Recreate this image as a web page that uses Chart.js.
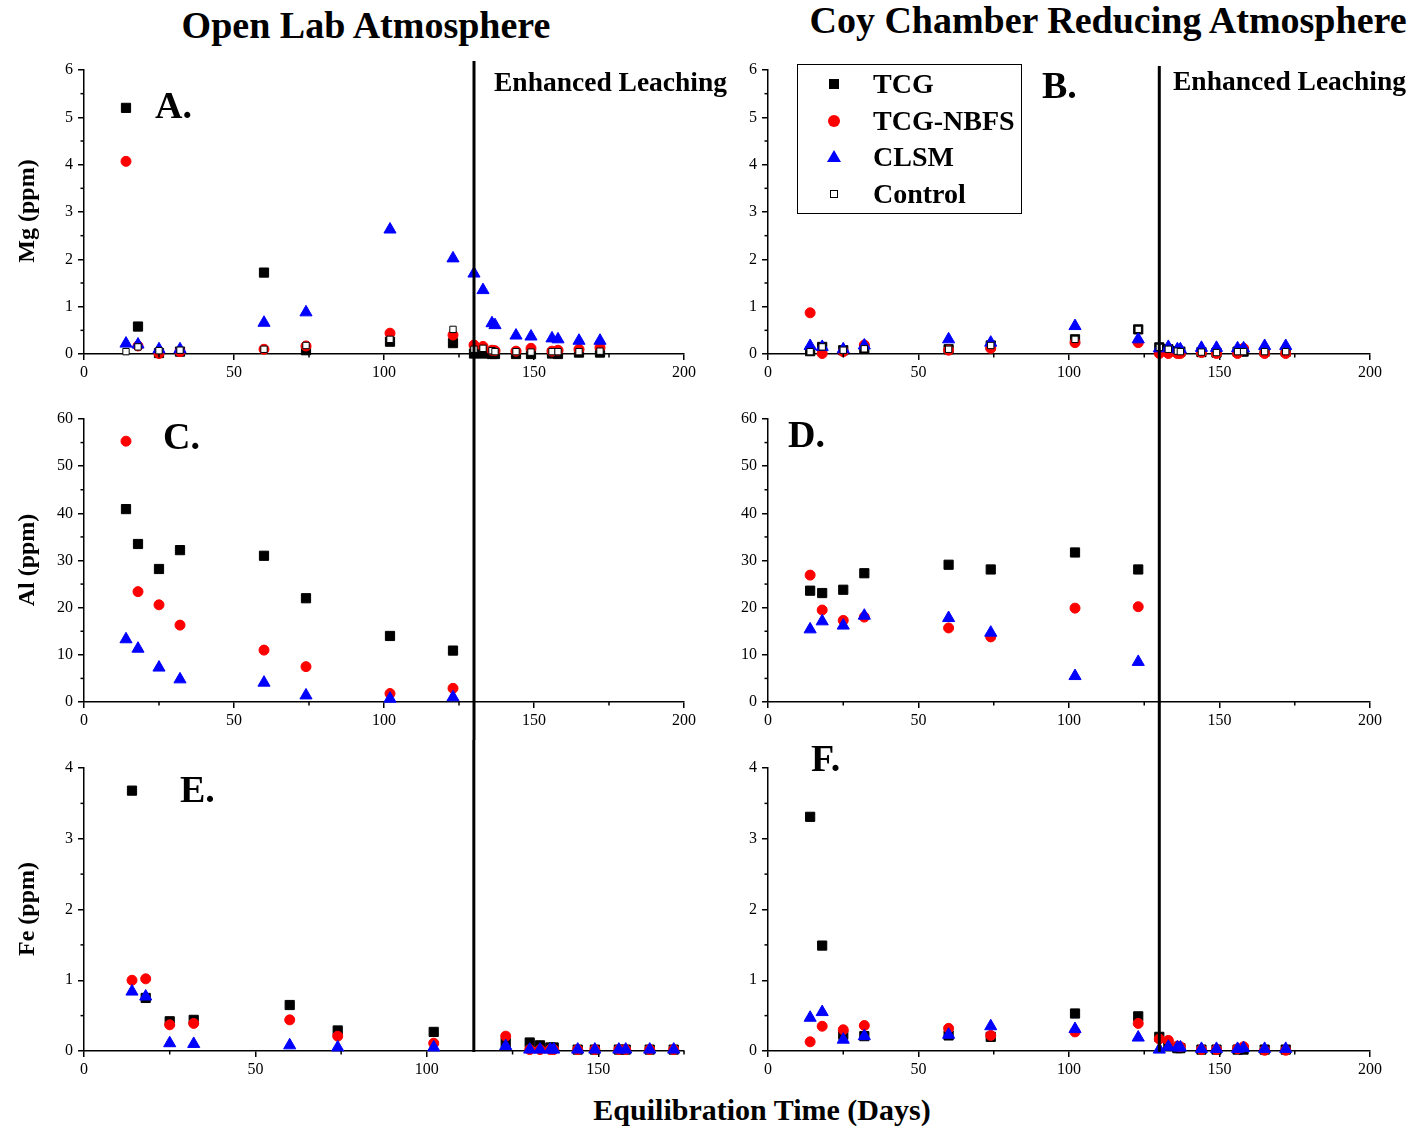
<!DOCTYPE html>
<html>
<head>
<meta charset="utf-8">
<script src="https://cdn.jsdelivr.net/npm/chart.js@4.4.0/dist/chart.umd.min.js"></script>
<style>
  body { margin: 0; background: #fff; width: 1412px; height: 1127px; position: relative; overflow: hidden;
         font-family: 'Liberation Serif', 'Times New Roman', serif; }
  canvas { position: absolute; }
  .txt { position: absolute; font-weight: bold; line-height: 1; white-space: nowrap; color: #000; z-index: 5; }
  .ytitle { position: absolute; font-weight: bold; font-size: 24px; line-height: 1; white-space: nowrap;
            transform: translate(-50%, -50%) rotate(-90deg); z-index: 5; }
  #legend { position: absolute; left: 797px; top: 64px; width: 225px; height: 150px; border: 1px solid #000;
            box-sizing: border-box; background: #fff; z-index: 4; }
  .mk { position: absolute; box-sizing: border-box; z-index: 6; }
</style>
</head>
<body>

<div class="txt" style="font-size:38px; left:366px; top:6px; transform:translateX(-50%)">Open Lab Atmosphere</div>
<div class="txt" style="font-size:38px; left:1108px; top:1px; transform:translateX(-50%)">Coy Chamber Reducing Atmosphere</div>
<div class="txt" style="font-size:30px; left:762px; top:1095px; transform:translateX(-50%)">Equilibration Time (Days)</div>

<div class="ytitle" style="left:26px; top:211px">Mg (ppm)</div>
<div class="ytitle" style="left:26px; top:560px">Al (ppm)</div>
<div class="ytitle" style="left:26px; top:909px">Fe (ppm)</div>

<div class="txt" style="font-size:27.5px; left:494px; top:68px">Enhanced Leaching</div>
<div class="txt" style="font-size:27.5px; left:1173px; top:67px">Enhanced Leaching</div>

<div class="txt" style="font-size:38px; left:155px; top:86px">A.</div>
<div class="txt" style="font-size:38px; left:1042px; top:66px">B.</div>
<div class="txt" style="font-size:38px; left:163px; top:417px">C.</div>
<div class="txt" style="font-size:38px; left:788px; top:415px">D.</div>
<div class="txt" style="font-size:38px; left:180px; top:770px">E.</div>
<div class="txt" style="font-size:38px; left:811px; top:739px">F.</div>

<div id="legend"></div>
<div class="mk" style="left:829px; top:79px; width:10px; height:10px; background:#000"></div>
<div class="mk" style="left:828px; top:115px; width:12px; height:12px; background:#f00; border-radius:50%"></div>
<div class="mk" style="left:827px; top:150px; width:0; height:0; border-left:7px solid transparent; border-right:7px solid transparent; border-bottom:12px solid #00f"></div>
<div class="mk" style="left:830px; top:190px; width:8px; height:8px; background:#fff; border:1px solid #000"></div>
<div class="txt" style="font-size:28px; left:873px; top:70px">TCG</div>
<div class="txt" style="font-size:28px; left:873px; top:107px">TCG-NBFS</div>
<div class="txt" style="font-size:28px; left:873px; top:143px">CLSM</div>
<div class="txt" style="font-size:28px; left:873px; top:180px">Control</div>

<canvas id="pA" width="706" height="340" style="left:0; top:50px"></canvas>
<canvas id="pB" width="706" height="340" style="left:706px; top:50px"></canvas>
<canvas id="pC" width="706" height="350" style="left:0; top:390px"></canvas>
<canvas id="pD" width="706" height="350" style="left:706px; top:390px"></canvas>
<canvas id="pE" width="706" height="350" style="left:0; top:740px"></canvas>
<canvas id="pF" width="706" height="350" style="left:706px; top:740px"></canvas>

<script>
// sampling days
const days = [14, 18, 25, 32, 60, 74, 102, 123, 130, 133, 136, 137, 144, 149, 156, 158, 165, 172];
const daysAl = [14, 18, 25, 32, 60, 74, 102, 123];

// A. Mg - open lab
const mgOpenTCG  = [5.20, 0.58, 0.02, 0.05, 1.72, 0.08, 0.26, 0.23, 0.01, 0.01, 0.00, 0.00, 0.00, 0.00, 0.01, 0.00, 0.03, 0.03];
const mgOpenNBFS = [4.07, 0.17, 0.01, 0.05, 0.10, 0.17, 0.44, 0.40, 0.19, 0.16, 0.08, 0.07, 0.06, 0.12, 0.06, 0.08, 0.10, 0.14];
const mgOpenCLSM = [0.22, 0.20, 0.10, 0.10, 0.66, 0.88, 2.63, 2.02, 1.70, 1.35, 0.65, 0.61, 0.39, 0.37, 0.33, 0.31, 0.28, 0.28];
const mgOpenCtrl = [0.05, 0.15, 0.07, 0.08, 0.10, 0.18, 0.31, 0.52, 0.10, 0.12, 0.07, 0.05, 0.05, 0.04, 0.05, 0.05, 0.05, 0.06];

// B. Mg - coy chamber
const mgCoyTCG  = [0.06, 0.15, 0.08, 0.11, 0.10, 0.18, 0.31, 0.52, 0.14, 0.10, 0.06, 0.05, 0.04, 0.03, 0.05, 0.05, 0.05, 0.05];
const mgCoyNBFS = [0.87, 0.01, 0.05, 0.19, 0.08, 0.12, 0.24, 0.24, 0.01, 0.01, 0.01, 0.01, 0.03, 0.01, 0.01, 0.12, 0.01, 0.01];
const mgCoyCLSM = [0.17, 0.15, 0.10, 0.18, 0.31, 0.24, 0.59, 0.31, 0.12, 0.15, 0.10, 0.10, 0.13, 0.13, 0.12, 0.12, 0.17, 0.17];
const mgCoyCtrl = [0.05, 0.15, 0.08, 0.11, 0.10, 0.18, 0.31, 0.52, 0.14, 0.10, 0.06, 0.05, 0.04, 0.03, 0.05, 0.05, 0.05, 0.05];

// C. Al - open lab
const alOpenTCG  = [40.9, 33.5, 28.2, 32.2, 31.0, 22.0, 14.0, 10.9];
const alOpenNBFS = [55.3, 23.4, 20.6, 16.3, 11.0, 7.5, 1.8, 2.9];
const alOpenCLSM = [13.3, 11.3, 7.3, 4.8, 4.1, 1.4, 0.7, 1.0];

// D. Al - coy chamber
const alCoyTCG  = [23.6, 23.1, 23.8, 27.3, 29.1, 28.1, 31.7, 28.1];
const alCoyNBFS = [26.9, 19.5, 17.3, 18.0, 15.7, 13.8, 19.9, 20.2];
const alCoyCLSM = [15.4, 17.1, 16.2, 18.3, 17.8, 14.7, 5.5, 8.5];

// E. Fe - open lab
const feOpenTCG  = [3.68, 0.75, 0.42, 0.44, 0.65, 0.29, 0.27, 0.12, 0.12, 0.08, 0.05, 0.05, 0.02, 0.02, 0.02, 0.02, 0.02, 0.02];
const feOpenNBFS = [1.00, 1.02, 0.37, 0.39, 0.44, 0.21, 0.11, 0.21, 0.02, 0.02, 0.02, 0.02, 0.02, 0.02, 0.02, 0.02, 0.02, 0.02];
const feOpenCLSM = [0.84, 0.77, 0.11, 0.10, 0.08, 0.05, 0.05, 0.07, 0.02, 0.02, 0.02, 0.02, 0.02, 0.02, 0.02, 0.02, 0.02, 0.02];

// F. Fe - coy chamber
const feCoyTCG  = [3.31, 1.49, 0.23, 0.21, 0.22, 0.20, 0.53, 0.49, 0.20, 0.09, 0.04, 0.04, 0.02, 0.02, 0.02, 0.02, 0.02, 0.02];
const feCoyNBFS = [0.13, 0.35, 0.30, 0.36, 0.32, 0.22, 0.27, 0.39, 0.17, 0.15, 0.07, 0.06, 0.02, 0.02, 0.03, 0.06, 0.01, 0.01];
const feCoyCLSM = [0.47, 0.55, 0.16, 0.21, 0.23, 0.35, 0.31, 0.19, 0.02, 0.06, 0.05, 0.05, 0.03, 0.03, 0.03, 0.04, 0.03, 0.03];

// tick labels
const xTicksFull  = [0, 50, 100, 150, 200];
const xTicksShort = [0, 50, 100, 150];
const mgTicks = [0, 1, 2, 3, 4, 5, 6];
const alTicks = [0, 10, 20, 30, 40, 50, 60];
const feTicks = [0, 1, 2, 3, 4];

// start of enhanced leaching (panel E uses its own shorter axis)
const leachDay = 130;
const leachDayE = 113.7;

const FONT = "'Liberation Serif', 'Times New Roman', serif";

const markerStyle = {
  tcg:  { pointStyle: 'rect',     pointRadius: 6.5, pointBackgroundColor: '#000',    pointBorderColor: '#000',    order: 3 },
  nbfs: { pointStyle: 'circle',   pointRadius: 5,   pointBackgroundColor: '#ff0000', pointBorderColor: '#ff0000', order: 2 },
  clsm: { pointStyle: 'triangle', pointRadius: 7,   pointBackgroundColor: '#0000ff', pointBorderColor: '#0000ff', order: 1 },
  ctrl: { pointStyle: 'rect',     pointRadius: 4.5, pointBackgroundColor: '#fff',    pointBorderColor: '#000',    order: 0 }
};

function toPoints(xs, ys) {
  return ys.map((v, i) => ({ x: xs[i], y: v }));
}

// minor ticks + leaching line
const decorPlugin = {
  id: 'decor',
  afterDraw(chart, args, opts) {
    const ctx = chart.ctx;
    const xs = chart.scales.x, ys = chart.scales.y;
    const area = chart.chartArea;
    ctx.save();
    ctx.strokeStyle = '#000';
    ctx.lineWidth = 1.5;
    for (let v = opts.xMinor; v <= xs.max + 1e-9; v += opts.xMinor * 2) {
      const px = xs.getPixelForValue(v);
      ctx.beginPath(); ctx.moveTo(px, area.bottom); ctx.lineTo(px, area.bottom + 3.5); ctx.stroke();
    }
    for (let v = opts.yMinor; v <= ys.max + 1e-9; v += opts.yMinor * 2) {
      const py = ys.getPixelForValue(v);
      ctx.beginPath(); ctx.moveTo(area.left, py); ctx.lineTo(area.left - 3.5, py); ctx.stroke();
    }
    // enhanced leaching line
    const lx = xs.getPixelForValue(opts.leach);
    ctx.lineWidth = 3;
    ctx.beginPath();
    ctx.moveTo(lx, area.top - opts.lineUp);
    ctx.lineTo(lx, area.bottom + opts.lineDown);
    ctx.stroke();
    ctx.restore();
  }
};

function makePanel(id, p) {
  const datasets = p.series.map(([xs, ys, key]) => Object.assign({
    data: toPoints(xs, ys),
    showLine: false,
    pointBorderWidth: 1,
    clip: false
  }, markerStyle[key]));

  const tickFont = { family: FONT, size: 16 };
  new Chart(document.getElementById(id), {
    type: 'scatter',
    data: { datasets },
    plugins: [decorPlugin],
    options: {
      responsive: false,
      animation: false,
      events: [],
      layout: { padding: { top: p.padTop, right: p.padRight, left: 0, bottom: 0 } },
      plugins: {
        legend: { display: false },
        tooltip: { enabled: false },
        decor: { xMinor: p.xMinor, yMinor: p.yMinor, leach: p.leach, lineUp: p.lineUp, lineDown: p.lineDown }
      },
      scales: {
        x: {
          type: 'linear', min: 0, max: p.xMax,
          afterBuildTicks: s => { s.ticks = p.xTicks.map(v => ({ value: v })); },
          afterFit: s => { s.height = p.xH; },
          grid: { drawOnChartArea: false, tickLength: 6, lineWidth: 1.5, color: '#000' },
          border: { color: '#000', width: 1.5 },
          ticks: { color: '#000', font: tickFont, padding: 3, maxRotation: 0, autoSkip: false }
        },
        y: {
          type: 'linear', min: 0, max: p.yMax,
          afterBuildTicks: s => { s.ticks = p.yTicks.map(v => ({ value: v })); },
          afterFit: s => { s.width = p.yW; },
          grid: { drawOnChartArea: false, tickLength: 6, lineWidth: 1.5, color: '#000' },
          border: { color: '#000', width: 1.5 },
          ticks: { color: '#000', font: tickFont, padding: 5, autoSkip: false }
        }
      }
    }
  });
}

const leftCol  = { yW: 84, padRight: 22 };
const rightCol = { yW: 62, padRight: 42 };
const row1 = { padTop: 20, xH: 36, lineDown: 36 };
const row2 = { padTop: 29, xH: 38, lineUp: 29, lineDown: 38 };
const row3 = { padTop: 28, xH: 39, lineUp: 28, lineDown: 1 };

makePanel('pA', Object.assign({}, leftCol, row1, {
  lineUp: 9, xMax: 200, xTicks: xTicksFull, xMinor: 25, yMax: 6, yTicks: mgTicks, yMinor: 0.5, leach: leachDay,
  series: [[days, mgOpenTCG, 'tcg'], [days, mgOpenNBFS, 'nbfs'], [days, mgOpenCLSM, 'clsm'], [days, mgOpenCtrl, 'ctrl']]
}));
makePanel('pB', Object.assign({}, rightCol, row1, {
  lineUp: 4, xMax: 200, xTicks: xTicksFull, xMinor: 25, yMax: 6, yTicks: mgTicks, yMinor: 0.5, leach: leachDay,
  series: [[days, mgCoyTCG, 'tcg'], [days, mgCoyNBFS, 'nbfs'], [days, mgCoyCLSM, 'clsm'], [days, mgCoyCtrl, 'ctrl']]
}));
makePanel('pC', Object.assign({}, leftCol, row2, {
  xMax: 200, xTicks: xTicksFull, xMinor: 25, yMax: 60, yTicks: alTicks, yMinor: 5, leach: leachDay,
  series: [[daysAl, alOpenTCG, 'tcg'], [daysAl, alOpenNBFS, 'nbfs'], [daysAl, alOpenCLSM, 'clsm']]
}));
makePanel('pD', Object.assign({}, rightCol, row2, {
  xMax: 200, xTicks: xTicksFull, xMinor: 25, yMax: 60, yTicks: alTicks, yMinor: 5, leach: leachDay,
  series: [[daysAl, alCoyTCG, 'tcg'], [daysAl, alCoyNBFS, 'nbfs'], [daysAl, alCoyCLSM, 'clsm']]
}));
makePanel('pE', Object.assign({}, leftCol, row3, {
  xMax: 175, xTicks: xTicksShort, xMinor: 25, yMax: 4, yTicks: feTicks, yMinor: 0.5, leach: leachDayE,
  series: [[days, feOpenTCG, 'tcg'], [days, feOpenNBFS, 'nbfs'], [days, feOpenCLSM, 'clsm']]
}));
makePanel('pF', Object.assign({}, rightCol, row3, {
  xMax: 200, xTicks: xTicksFull, xMinor: 25, yMax: 4, yTicks: feTicks, yMinor: 0.5, leach: leachDay,
  series: [[days, feCoyTCG, 'tcg'], [days, feCoyNBFS, 'nbfs'], [days, feCoyCLSM, 'clsm']]
}));
</script>
</body>
</html>
